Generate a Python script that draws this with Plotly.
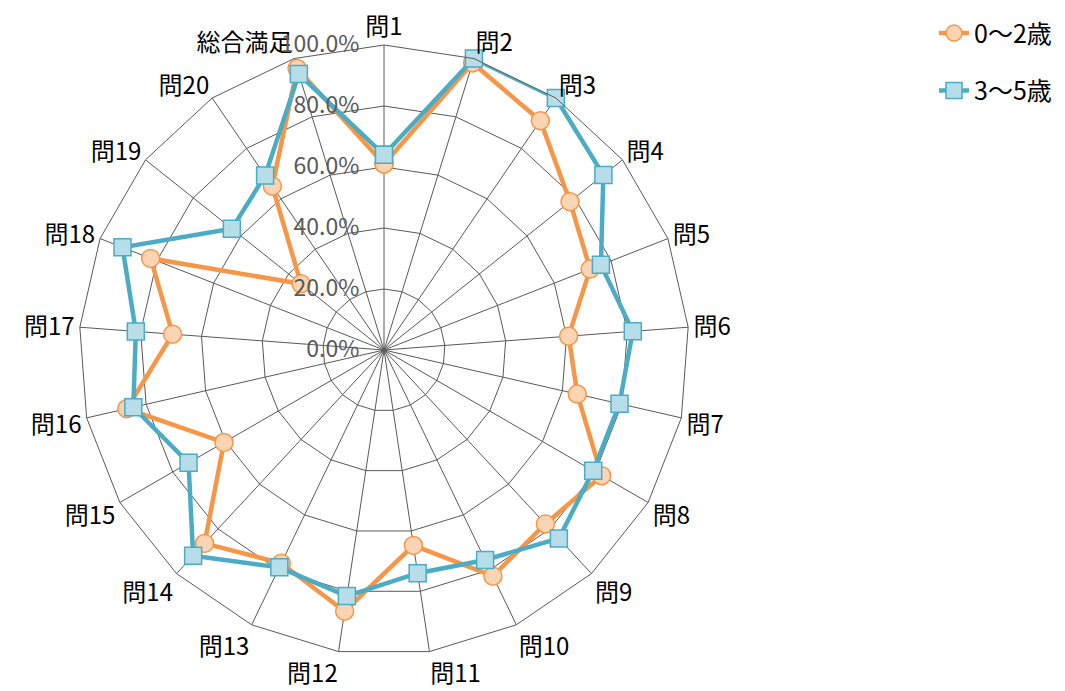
import plotly.graph_objects as go

categories = ["問1", "問2", "問3", "問4", "問5", "問6", "問7", "問8", "問9", "問10",
              "問11", "問12", "問13", "問14", "問15", "問16", "問17", "問18", "問19", "問20", "総合満足"]
age_0_2 = [61.0, 98.5, 91.0, 78.0, 72.6, 60.7, 65.0, 82.4, 77.8, 82.3,
           64.8, 86.6, 77.6, 86.5, 60.6, 86.5, 69.5, 82.2, 34.8, 65.0, 96.6]
age_3_5 = [64.0, 100.0, 100.0, 92.0, 76.4, 81.8, 79.2, 79.2, 84.3, 76.4,
           74.0, 81.6, 79.1, 92.0, 74.0, 84.3, 81.6, 92.1, 63.8, 69.2, 94.7]
radial_ticks = [0, 0.2, 0.4, 0.6, 0.8, 1.0]
radial_labels = ["0.0%", "20.0%", "40.0%", "60.0%", "80.0%", "100.0%"]

def closed(v):
    return [x / 100 for x in v] + [v[0] / 100]

theta = categories + [categories[0]]

fig = go.Figure()
fig.add_trace(go.Scatterpolar(
    r=closed(age_0_2), theta=theta, name="0～2歳", mode="lines+markers",
    line=dict(color="#F79646", width=4.5),
    marker=dict(symbol="circle", size=18, color="#FBD4B4", line=dict(color="#F79646", width=1.5)),
    legendgroup="a",
))
fig.add_trace(go.Scatterpolar(
    r=closed(age_3_5), theta=theta, name="3～5歳", mode="lines+markers",
    line=dict(color="#4BACC6", width=4.5),
    marker=dict(symbol="square", size=17, color="#B7DEE8", line=dict(color="#4BACC6", width=1.5)),
    legendgroup="b",
))

cx, cy, R = 384, 350, 305
W, H = 1065, 691
fig.update_layout(
    width=W, height=H,
    margin=dict(l=0, r=0, t=0, b=0),
    paper_bgcolor="white", plot_bgcolor="white",
    font=dict(family="Noto Sans CJK JP", size=22, color="#000000"),
    polar=dict(
        domain=dict(x=[(cx - R) / W, (cx + R) / W], y=[(H - cy - R) / H, (H - cy + R) / H]),
        bgcolor="white",
        gridshape="linear",
        angularaxis=dict(
            direction="clockwise", rotation=90, showline=True, linecolor="#595959", linewidth=1,
            gridcolor="#595959", gridwidth=1, ticks="",
            tickfont=dict(size=24, color="#000000"),
        ),
        radialaxis=dict(
            range=[0, 1], tickvals=radial_ticks, ticktext=[t + "\u00a0\u00a0\u00a0\u00a0" for t in radial_labels],
            angle=90, tickangle=90,
            side="counterclockwise", showline=False, ticks="",
            gridcolor="#595959", gridwidth=1,
            tickfont=dict(family="Liberation Sans Narrow, Noto Sans CJK JP", size=23, color="#595959"),
        ),
    ),
    legend=dict(x=0.877, y=0.985, xanchor="left", yanchor="top", tracegroupgap=22,
                font=dict(size=25, color="#000000"), bgcolor="rgba(0,0,0,0)"),
)
fig.write_html("out.html", post_script="document.body.style.margin='0px';",
               config={"displayModeBar": False})
